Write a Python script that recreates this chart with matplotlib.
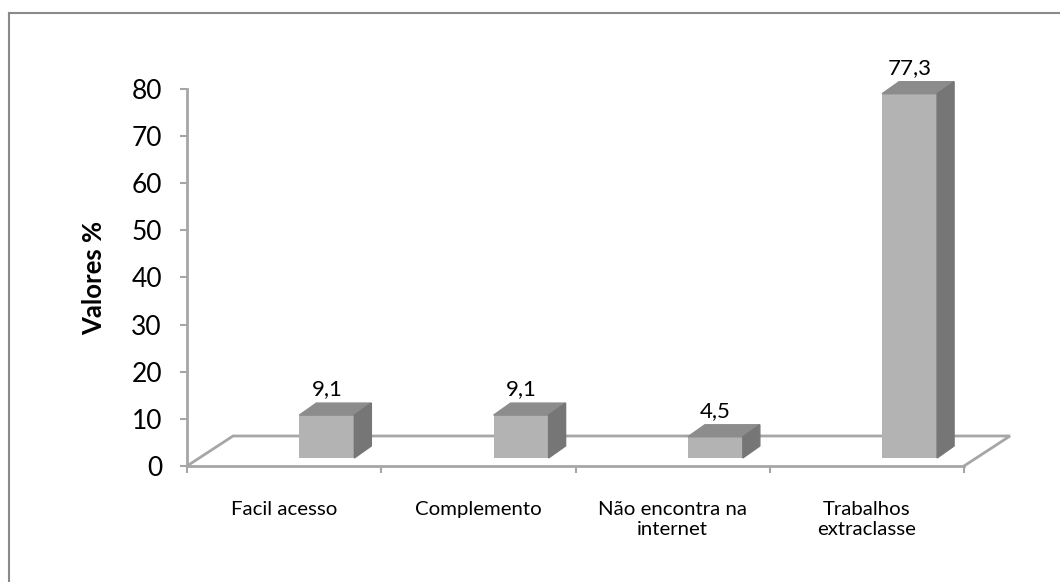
import matplotlib
matplotlib.use("Agg")
import matplotlib.pyplot as plt
from matplotlib.patches import Polygon
from matplotlib.lines import Line2D
import numpy as np

plt.rcParams['font.family'] = ['Lato', 'DejaVu Sans']

categories = ["Facil acesso", "Complemento", "Não encontra na\ninternet", "Trabalhos\nextraclasse"]
values = [9.1, 9.1, 4.5, 77.3]
value_labels = ["9,1", "9,1", "4,5", "77,3"]
yticks = [0, 10, 20, 30, 40, 50, 60, 70, 80]

W, H = 1060, 582
fig = plt.figure(figsize=(W / 100, H / 100), dpi=100)
ax = fig.add_axes([187 / W, (H - 466) / H, (964 - 187) / W, (466 - 89) / H])

axis_col = '#a6a6a6'
front_col = '#b3b3b3'
top_col = '#8c8c8c'
side_col = '#767676'

# floor of the pseudo 3d plot
bx, by = 0.237, 6.37
floor = [(-0.5, 0), (-0.5 + bx, by), (3.5 + bx, by), (3.5, 0)]
ax.plot([p[0] for p in floor], [p[1] for p in floor], color=axis_col, lw=2,
        clip_on=False, zorder=1, solid_joinstyle='miter')

# bars
x = np.arange(len(values))
shift, base, width = 0.22, 1.7, 0.283
dx, dy = 0.0875, 2.55
ax.bar(x + shift, values, width=width, bottom=base, color=front_col,
       zorder=3, clip_on=False)
for xi, v, lab in zip(x, values, value_labels):
    x0 = xi + shift - width / 2
    x1 = xi + shift + width / 2
    top = base + v
    ax.add_patch(Polygon([(x0, top), (x1, top), (x1 + dx, top + dy), (x0 + dx, top + dy)],
                         closed=True, color=top_col, zorder=3, clip_on=False))
    ax.add_patch(Polygon([(x1, base), (x1 + dx, base + dy), (x1 + dx, top + dy), (x1, top)],
                         closed=True, color=side_col, zorder=3, clip_on=False))
    ax.annotate(lab, (xi + shift, top + dy), xytext=(0, 10), textcoords='offset points',
                ha='center', va='center', fontsize=16, zorder=4, annotation_clip=False)

ax.set_xlim(-0.5, 3.5)
ax.set_ylim(0, 80)
ax.set_yticks(yticks)
ax.set_xticks(np.arange(-0.5, 4, 1))
ax.set_xticklabels([])
ax.set_xticks(x, minor=True)
ax.set_xticklabels(categories, minor=True, fontsize=14.7, linespacing=1.25)
ax.tick_params(axis='x', which='minor', length=0, pad=25)
ax.tick_params(axis='x', which='major', length=5, color=axis_col, width=1.5, direction='out')
ax.tick_params(axis='y', length=5, color=axis_col, width=1.5, direction='out',
               labelsize=19, pad=13)

for s in ['top', 'right']:
    ax.spines[s].set_visible(False)
for s in ['left', 'bottom']:
    ax.spines[s].set_color(axis_col)
    ax.spines[s].set_linewidth(2)
ax.patch.set_visible(False)

ax.set_ylabel("Valores %", fontsize=18.5, fontweight='bold', labelpad=18)

# outer frame (cut by the page)
fig.add_artist(Line2D([9 / W, 9 / W], [0, (H - 13) / H], color='#8a8a8a', lw=1.5))
fig.add_artist(Line2D([9 / W, 1], [(H - 13) / H, (H - 13) / H], color='#8a8a8a', lw=1.5))

fig.savefig('out.png', dpi=100)
